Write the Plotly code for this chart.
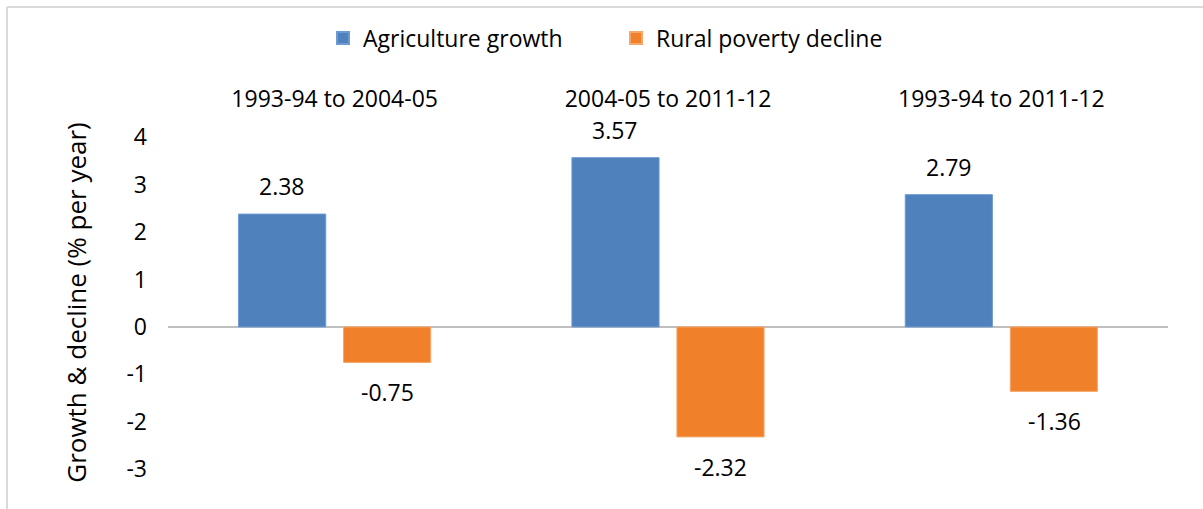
import plotly.graph_objects as go

# Periods and annual rates (% per year)
periods = ["1993-94 to 2004-05", "2004-05 to 2011-12", "1993-94 to 2011-12"]
agri_growth = [2.38, 3.57, 2.79]
rural_poverty_decline = [-0.75, -2.32, -1.36]

series_names = ["Agriculture growth", "Rural poverty decline"]
y_ticks = [4, 3, 2, 1, 0, -1, -2, -3]
y_tick_text = ["4", "3", "2", "1", "0", "-1", "-2", "-3"]

FONT = "Open Sans"
FS = 23
W, H = 1203, 509
L, R, T, B = 168, 35, 115, 19

fig = go.Figure()
fig.add_trace(go.Bar(
    x=periods, y=agri_growth, name=series_names[0],
    marker=dict(color="#4F81BD", line=dict(color="#6C9AD3", width=1)),
))
fig.add_trace(go.Bar(
    x=periods, y=rural_poverty_decline, name=series_names[1],
    marker=dict(color="#F0812A", line=dict(color="#F6A86C", width=1)),
))

# value labels above positive bars, below negative bars
offset = 0.158
for i, p in enumerate(periods):
    for vals, dx in ((agri_growth, -1), (rural_poverty_decline, 1)):
        v = vals[i]
        fig.add_annotation(
            x=i + dx * offset, y=v, xref="x", yref="y",
            text=f"{v:.2f}", showarrow=False,
            yanchor="bottom" if v >= 0 else "top",
            yshift=10 if v >= 0 else -12,
            font=dict(family=FONT, size=FS, color="#000000"),
        )

# outer frame (left and top edges)
px2x = lambda px: (px - L) / (W - L - R)
py2y = lambda py: (H - B - py) / (H - T - B)
fig.add_shape(type="line", xref="paper", yref="paper",
              x0=px2x(7), x1=px2x(7), y0=py2y(7), y1=py2y(H + 5),
              line=dict(color="#D9D9D9", width=2))
fig.add_shape(type="line", xref="paper", yref="paper",
              x0=px2x(7), x1=px2x(W + 5), y0=py2y(7), y1=py2y(7),
              line=dict(color="#D9D9D9", width=2))

fig.update_layout(
    width=W, height=H,
    margin=dict(l=L, r=R, t=T, b=B),
    paper_bgcolor="white", plot_bgcolor="white",
    barmode="group", bargap=0.37, bargroupgap=0.17,
    font=dict(family=FONT, size=FS, color="#000000"),
    showlegend=True,
    legend=dict(orientation="h", x=0.448, xanchor="center", y=py2y(38), yanchor="middle",
                font=dict(family=FONT, size=FS), itemwidth=30, entrywidth=248,
                itemsizing="constant"),
    xaxis=dict(side="top", showline=False, showgrid=False, ticks="",
               tickfont=dict(family=FONT, size=FS), ticklabelstandoff=2),
    yaxis=dict(range=[-3.44, 4.47], tickvals=y_ticks, ticktext=y_tick_text,
               showgrid=False, showline=False,
               zeroline=True, zerolinecolor="#BFBFBF", zerolinewidth=2,
               tickfont=dict(family=FONT, size=FS), ticklabelstandoff=20,
               title=dict(text="Growth & decline (% per year)",
                          font=dict(family=FONT, size=26), standoff=32)),
)

fig.write_html("out.html")
